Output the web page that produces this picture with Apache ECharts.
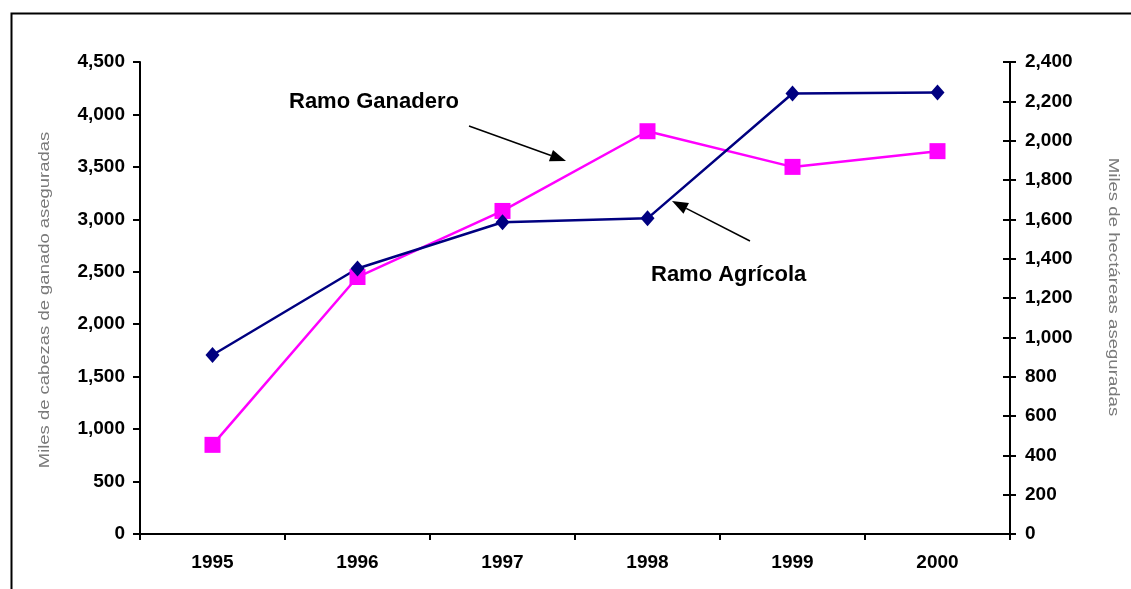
<!DOCTYPE html>
<html>
<head>
<meta charset="utf-8">
<script src="https://cdn.jsdelivr.net/npm/echarts@6/dist/echarts.min.js"></script>
<style>
  html, body { margin: 0; padding: 0; background: #fff; }
  #chart { width: 1131px; height: 589px; }
</style>
</head>
<body>
<div id="chart"></div>
<script>
  var years = ["1995", "1996", "1997", "1998", "1999", "2000"];
  // miles de cabezas de ganado (eje izquierdo)
  var ganadero = [850, 2450, 3080, 3840, 3500, 3650];
  // miles de hectáreas (eje derecho)
  var agricola = [910, 1350, 1585, 1605, 2240, 2245];

  var fontFam = "'Liberation Sans', Arial, sans-serif";

  // flecha: linea + punta triangular
  function arrow(x1, y1, x2, y2) {
    var ang = Math.atan2(y2 - y1, x2 - x1);
    var len = 16, w = 6;
    var bx = x2 - len * Math.cos(ang), by = y2 - len * Math.sin(ang);
    var px = -Math.sin(ang) * w, py = Math.cos(ang) * w;
    return [
      { type: "line", shape: { x1: x1, y1: y1, x2: bx, y2: by }, style: { stroke: "#000", lineWidth: 1.5 } },
      { type: "polygon", shape: { points: [[x2, y2], [bx + px, by + py], [bx - px, by - py]] }, style: { fill: "#000" } }
    ];
  }

  var valLabel = { fontFamily: fontFam, fontWeight: "bold", fontSize: 19, color: "#000" };
  function fmt(v) { return v.toLocaleString("en-US"); }

  // titulos de los ejes (texto algo estirado como en el original)
  var nameStyle = { fontFamily: fontFam, fontSize: 15, fill: "#7a7a7a", align: "center", verticalAlign: "middle" };

  var graphics = [
    { type: "rect", shape: { x: 11.5, y: 13.5, width: 1200, height: 700 }, style: { fill: null, stroke: "#000", lineWidth: 2 }, z: 0 },
    { type: "text", x: 289, y: 102, style: { text: "Ramo Ganadero", fontFamily: fontFam, fontWeight: "bold", fontSize: 22, fill: "#000", verticalAlign: "middle" } },
    { type: "text", x: 651, y: 275, style: { text: "Ramo Agrícola", fontFamily: fontFam, fontWeight: "bold", fontSize: 22, fill: "#000", verticalAlign: "middle" } },
    { type: "text", x: 45, y: 300, rotation: Math.PI / 2, scaleX: 1.23,
      style: Object.assign({ text: "Miles de cabezas de ganado aseguradas" }, nameStyle) },
    { type: "text", x: 1113, y: 287, rotation: -Math.PI / 2, scaleX: 1.24,
      style: Object.assign({ text: "Miles de hectáreas aseguradas" }, nameStyle) }
  ].concat(arrow(469, 126, 566, 161)).concat(arrow(750, 241, 672, 201));

  var myChart = echarts.init(document.getElementById("chart"));
  myChart.setOption({
    animation: false,
    backgroundColor: "#fff",
    grid: { left: 140, right: 121, top: 62, bottom: 55, containLabel: false },
    graphic: graphics,
    xAxis: {
      type: "category",
      data: years,
      boundaryGap: true,
      axisLine: { lineStyle: { color: "#000", width: 2 } },
      axisTick: { show: true, inside: false, length: 6, lineStyle: { color: "#000", width: 2 } },
      axisLabel: Object.assign({ margin: 19 }, valLabel),
      splitLine: { show: false }
    },
    yAxis: [
      {
        type: "value", position: "left", min: 0, max: 4500, interval: 500,
        axisLine: { show: true, lineStyle: { color: "#000", width: 2 } },
        axisTick: { show: true, length: 7, lineStyle: { color: "#000", width: 2 } },
        axisLabel: Object.assign({ margin: 15, formatter: fmt }, valLabel),
        splitLine: { show: false }
      },
      {
        type: "value", position: "right", min: 0, max: 2400, interval: 200,
        axisLine: { show: true, lineStyle: { color: "#000", width: 2 } },
        axisTick: { show: true, length: 6, lineStyle: { color: "#000", width: 2 } },
        axisLabel: Object.assign({ margin: 15, formatter: fmt }, valLabel),
        splitLine: { show: false }
      },
      {
        // copia del eje derecho, para los ticks que cruzan hacia dentro
        type: "value", position: "right", min: 0, max: 2400, interval: 200,
        axisLine: { show: false },
        axisTick: { show: true, inside: true, length: 7, lineStyle: { color: "#000", width: 2 } },
        axisLabel: { show: false },
        splitLine: { show: false }
      }
    ],
    series: [
      {
        name: "Ramo Ganadero", type: "line", yAxisIndex: 0, data: ganadero,
        symbol: "rect", symbolSize: 16,
        lineStyle: { color: "#FF00FF", width: 2.5 },
        itemStyle: { color: "#FF00FF" }
      },
      {
        name: "Ramo Agrícola", type: "line", yAxisIndex: 1, data: agricola,
        symbol: "diamond", symbolSize: [14, 16],
        lineStyle: { color: "#000080", width: 2.5 },
        itemStyle: { color: "#000080" }
      }
    ]
  });
</script>
</body>
</html>
